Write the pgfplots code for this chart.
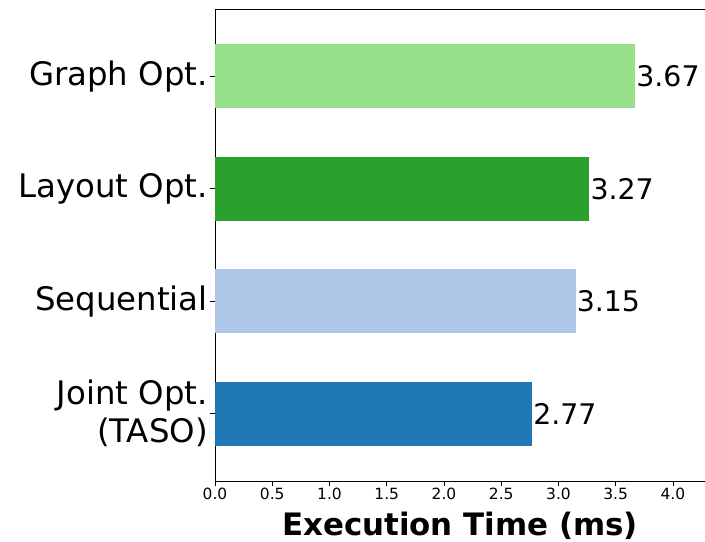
\documentclass[border=0pt]{standalone}
\usepackage{fontspec}
\setmainfont{DejaVu Sans}
\usepackage{pgfplots}
\pgfplotsset{compat=1.18}
\definecolor{c1}{HTML}{98DF8A}
\definecolor{c2}{HTML}{2CA02C}
\definecolor{c3}{HTML}{AEC7E8}
\definecolor{c4}{HTML}{1F77B4}
\begin{document}
\begin{tikzpicture}
\begin{axis}[
  scale only axis,
  width=490bp, height=472bp,
  xmin=0, xmax=4.28,
  ymin=-0.6, ymax=3.6,
  axis lines=left,
  axis line style={-, line width=0.8pt},
  xtick={0,0.5,...,4.0},
  ytick={0,1,2,3},
  yticklabels={{Joint Opt.\\(TASO)},{Sequential},{Layout Opt.},{Graph Opt.}},
  yticklabel style={font=\fontsize{32.5}{38}\selectfont, align=right, inner sep=2bp},
  xticklabel style={font=\fontsize{15.5}{18}\selectfont, inner sep=2bp},
  /pgf/number format/assume math mode=true,
  xticklabel={\pgfmathprintnumber[fixed, fixed zerofill, precision=1]{\tick}},
  tick align=outside,
  major tick length=5bp,
  tick style={black, line width=0.8pt},
  xlabel={\bfseries Execution Time (ms)},
  xlabel style={font=\fontsize{31}{36}\selectfont\bfseries, yshift=-7bp},
  nodes near coords,
  nodes near coords align={horizontal},
  every node near coord/.append style={font=\fontsize{28.5}{32}\selectfont, black, anchor=west, inner sep=1bp},
  point meta=explicit,
  clip=false,
]
\addplot[xbar, bar shift=0pt, bar width=0.57, fill=c4, draw=none] coordinates {(2.77,0) [2.77]};
\addplot[xbar, bar shift=0pt, bar width=0.57, fill=c3, draw=none] coordinates {(3.15,1) [3.15]};
\addplot[xbar, bar shift=0pt, bar width=0.57, fill=c2, draw=none] coordinates {(3.27,2) [3.27]};
\addplot[xbar, bar shift=0pt, bar width=0.57, fill=c1, draw=none] coordinates {(3.67,3) [3.67]};
\draw[line width=0.8pt] (rel axis cs:0,1) -- (rel axis cs:1,1);
\coordinate (ll) at (rel axis cs:0,0);
\coordinate (ur) at (rel axis cs:1,1);
\end{axis}
\pgfresetboundingbox
\path ([shift={(-215bp,-61bp)}]ll) rectangle ([shift={(0bp,9bp)}]ur);
\end{tikzpicture}
\end{document}
